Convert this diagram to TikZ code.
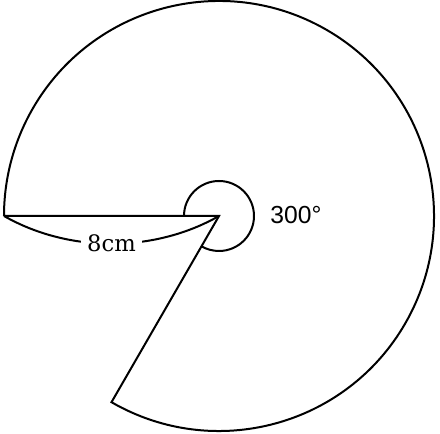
\documentclass[tikz,border=0pt]{standalone}
\usepackage{fontspec}
\newfontfamily\labelsans{Liberation Sans}
\newfontfamily\labelserif{DejaVu Serif}
\usetikzlibrary{positioning}

\begin{document}
\begin{tikzpicture}[x=0.75pt,y=0.75pt,line width=1.5pt,
  len label/.style={fill=white,inner sep=5pt,font=\labelserif\fontsize{17}{20}\selectfont},
  angle label/.style={font=\labelsans\fontsize{18.5}{22}\selectfont}]

  \useasboundingbox (-219,-218) rectangle (221,216);

  \coordinate (O) at (0,0);
  \coordinate (A) at (180:215);
  \coordinate (B) at (240:215);

  % sector
  \draw (A) -- (O) -- (B) arc[start angle=240, end angle=540, radius=215];

  % angle mark
  \draw ([shift={(180:35)}]O) arc[start angle=180, end angle=-120, radius=35];
  \node[angle label] (ang) at (77,1) {300°};

  % radius length
  \draw (A) .. controls (-150,-37) and (-65,-37) .. (O)
    node[len label,pos=0.5] (len) {8cm};
\end{tikzpicture}
\end{document}
